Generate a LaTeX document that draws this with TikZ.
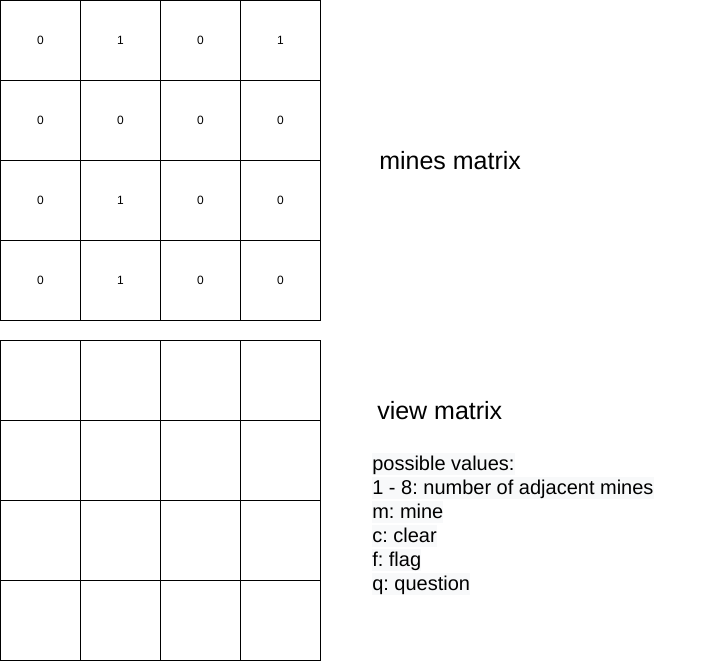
\documentclass[tikz,border=0pt]{standalone}
\usepackage{fontspec}
\setmainfont{Liberation Sans}
\usepackage{xcolor}
\usetikzlibrary{positioning}
\frenchspacing
\definecolor{notecolor}{RGB}{248, 249, 250}
\tikzstyle{cell} = [
	draw,
	line width=0.75pt,
	minimum size=60pt,
	inner sep=0pt,
	outer sep=0pt,
	font=\fontsize{9}{10}\selectfont
]
\tikzstyle{title} = [
	anchor=west,
	inner sep=0pt,
	font=\fontsize{18.75}{22}\selectfont
]
\tikzstyle{note} = [
	anchor=west,
	fill=notecolor,
	inner sep=0pt,
	text height=13.6pt,
	text depth=3.2pt,
	font=\fontsize{15}{18}\selectfont
]
\begin{document}
\begin{tikzpicture}[x=0.75pt, y=-0.75pt, node distance=0cm and 0cm]
	\useasboundingbox (0,0) rectangle (701,661);

	%
	% Mines matrix
	\node[cell] (m00) at (40.5,40.5) {0};
	\node[cell, right=of m00] (m01) {1};
	\node[cell, right=of m01] (m02) {0};
	\node[cell, right=of m02] (m03) {1};
	\node[cell, below=of m00] (m10) {0};
	\node[cell, right=of m10] (m11) {0};
	\node[cell, right=of m11] (m12) {0};
	\node[cell, right=of m12] (m13) {0};
	\node[cell, below=of m10] (m20) {0};
	\node[cell, right=of m20] (m21) {1};
	\node[cell, right=of m21] (m22) {0};
	\node[cell, right=of m22] (m23) {0};
	\node[cell, below=of m20] (m30) {0};
	\node[cell, right=of m30] (m31) {1};
	\node[cell, right=of m31] (m32) {0};
	\node[cell, right=of m32] (m33) {0};

	\node[title] (minestitle) at (379,161) {mines matrix};

	%
	% View matrix
	\node[cell] (v00) at (40.5,380.5) {};
	\node[cell, right=of v00] (v01) {};
	\node[cell, right=of v01] (v02) {};
	\node[cell, right=of v02] (v03) {};
	\node[cell, below=of v00] (v10) {};
	\node[cell, right=of v10] (v11) {};
	\node[cell, right=of v11] (v12) {};
	\node[cell, right=of v12] (v13) {};
	\node[cell, below=of v10] (v20) {};
	\node[cell, right=of v20] (v21) {};
	\node[cell, right=of v21] (v22) {};
	\node[cell, right=of v22] (v23) {};
	\node[cell, below=of v20] (v30) {};
	\node[cell, right=of v30] (v31) {};
	\node[cell, right=of v31] (v32) {};
	\node[cell, right=of v32] (v33) {};

	\node[title] (viewtitle) at (377,411) {view matrix};

	%
	% Possible values
	\node[note] (note1) at (372,464) {possible values:};
	\node[note] (note2) at (372,488) {1 - 8: number of adjacent mines};
	\node[note] (note3) at (372,512) {m: mine};
	\node[note] (note4) at (372,536) {c: clear};
	\node[note] (note5) at (372,560) {f: flag};
	\node[note] (note6) at (372,584) {q: question};

\end{tikzpicture}
\end{document}
